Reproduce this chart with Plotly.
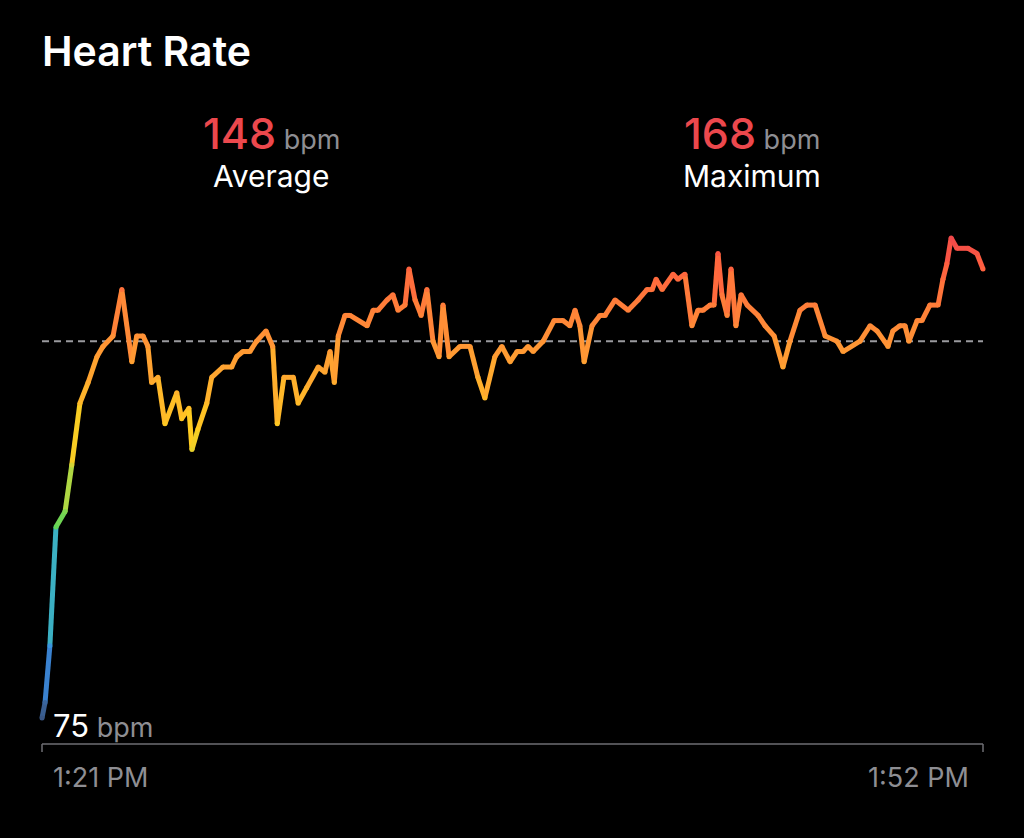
import numpy as np
import plotly.graph_objects as go

# minutes after 1:21 PM
minutes = [0.0, 0.10, 0.26, 0.46, 0.76, 0.98, 1.25, 1.52, 1.81, 2.01,
           2.34, 2.63, 2.96, 3.12, 3.33, 3.49, 3.61, 3.82, 4.05, 4.44,
           4.60, 4.84, 4.94, 5.14, 5.43, 5.59, 5.96, 6.25, 6.41, 6.62,
           6.85, 7.07, 7.38, 7.60, 7.75, 7.97, 8.28, 8.44, 8.72, 9.10,
           9.32, 9.49, 9.63, 9.76, 9.98, 10.15, 10.71, 10.91, 11.07, 11.37,
           11.56, 11.73, 11.96, 12.09, 12.29, 12.49, 12.68, 12.88, 13.08, 13.21,
           13.41, 13.77, 14.10, 14.36, 14.59, 14.92, 15.15, 15.42, 15.65, 15.85,
           16.01, 16.18, 16.51, 16.87, 17.16, 17.39, 17.56, 17.72, 17.86, 18.12,
           18.38, 18.55, 18.88, 19.31, 19.64, 19.93, 20.10, 20.23, 20.43, 20.79,
           20.95, 21.18, 21.41, 21.61, 21.78, 22.01, 22.14, 22.27, 22.40, 22.57,
           22.70, 22.86, 23.03, 23.23, 23.59, 23.82, 24.12, 24.41, 24.64, 24.97,
           25.20, 25.47, 25.80, 26.19, 26.39, 26.95, 27.28, 27.51, 27.87, 28.03,
           28.26, 28.43, 28.56, 28.83, 28.99, 29.25, 29.52, 29.68, 29.81, 29.95,
           30.14, 30.51, 30.80, 31.00]

bpm = [75, 78, 89, 112, 115, 124, 136, 140, 145, 147,
       149, 158, 144, 149, 149, 147, 140, 141, 132, 138,
       133, 135, 127, 131, 136, 141, 143, 143, 145, 146,
       146, 148, 150, 147, 132, 141, 141, 136, 139, 143,
       142, 146, 140, 149, 153, 153, 151, 154, 154, 156,
       157, 154, 155, 162, 156, 153, 158, 148, 145, 155,
       145, 147, 147, 141, 137, 145, 147, 144, 146, 146,
       147, 146, 148, 152, 152, 151, 154, 151, 144, 151,
       153, 153, 156, 154, 156, 158, 158, 160, 158, 161,
       160, 161, 151, 154, 154, 155, 155, 165, 157, 153,
       162, 151, 157, 155, 153, 151, 149, 143, 148, 154,
       155, 155, 149, 148, 146, 148, 151, 150, 147, 150,
       151, 151, 148, 152, 152, 155, 155, 160, 163, 168,
       166, 166, 165, 162]

avg_bpm = 148
max_bpm = 168
min_bpm = 75
start_label = "1:21 PM"
end_label = "1:52 PM"

# heart-rate colour ramp (bpm -> colour)
ramp_bpm = [75, 86, 100, 110, 122, 131, 140, 148, 156, 163, 168]
ramp_hex = ["#3a5785", "#3a8fe6", "#3aaec8", "#4cd45c", "#c9d83c", "#ffcc20",
            "#ffac2e", "#ff9435", "#ff7a3a", "#ff5e40", "#f0484a"]
ramp_rgb = np.array([[int(h[i:i + 2], 16) for i in (1, 3, 5)] for h in ramp_hex])


def hr_color(v):
    r, g, b = (np.interp(v, ramp_bpm, ramp_rgb[:, k]) for k in range(3))
    return f"rgb({r:.0f},{g:.0f},{b:.0f})"


W, H = 1024, 838
L, R, T, B = 32, 31, 200, 78
FONT = "Inter, 'Noto Sans', sans-serif"
GRAY = "#8e8e93"
RED = "#ec484d"


def px(x):
    return (x - L) / (W - L - R)


def py(y):
    return (H - B - y) / (H - T - B)


fig = go.Figure()

# coloured segments
for i in range(len(bpm) - 1):
    fig.add_trace(go.Scatter(
        x=minutes[i:i + 2], y=bpm[i:i + 2], mode="lines",
        line=dict(color=hr_color((bpm[i] + bpm[i + 1]) / 2), width=5),
        hoverinfo="skip", showlegend=False))

# round joints
fig.add_trace(go.Scatter(
    x=minutes, y=bpm, mode="markers",
    marker=dict(color=[hr_color(v) for v in bpm], size=5, line=dict(width=0)),
    hoverinfo="skip", showlegend=False))

x0, x1 = minutes[0], minutes[-1]
shapes = [
    dict(type="line", xref="x", yref="y", x0=x0, x1=x1, y0=avg_bpm, y1=avg_bpm,
         line=dict(color="#9a9a9e", width=2, dash="7px,5px"), layer="below"),
    dict(type="line", xref="x", yref="paper", x0=x0, x1=x1, y0=py(744), y1=py(744),
         line=dict(color="#6e6e73", width=1.5)),
    dict(type="line", xref="x", yref="paper", x0=x0, x1=x0, y0=py(744), y1=py(752),
         line=dict(color="#6e6e73", width=1.5)),
    dict(type="line", xref="x", yref="paper", x0=x1, x1=x1, y0=py(744), y1=py(752),
         line=dict(color="#6e6e73", width=1.5)),
]


def stat(value, size_num, size_unit):
    return (f"<span style='color:{RED};font-size:{size_num}px;font-weight:500'>{value}</span>"
            f"<span style='color:{GRAY};font-size:{size_unit}px'> bpm</span>")


annotations = [
    dict(text="Heart Rate", x=px(40), y=py(51), xanchor="left", yanchor="middle",
         font=dict(size=41, color="white", family=FONT, weight=600)),
    dict(text=stat(avg_bpm, 43, 27), x=px(271), y=py(133), xanchor="center", yanchor="middle",
         font=dict(family=FONT)),
    dict(text="Average", x=px(271), y=py(176), xanchor="center", yanchor="middle",
         font=dict(size=30, color="white", family=FONT)),
    dict(text=stat(max_bpm, 43, 27), x=px(752), y=py(133), xanchor="center", yanchor="middle",
         font=dict(family=FONT)),
    dict(text="Maximum", x=px(752), y=py(176), xanchor="center", yanchor="middle",
         font=dict(size=30, color="white", family=FONT)),
    dict(text=f"<span style='color:white;font-size:31px'>{min_bpm}</span>"
              f"<span style='color:{GRAY};font-size:27px'> bpm</span>",
         x=px(51), y=py(725), xanchor="left", yanchor="middle", font=dict(family=FONT)),
    dict(text=start_label, x=px(51), y=py(778), xanchor="left", yanchor="middle",
         font=dict(size=27, color=GRAY, family=FONT)),
    dict(text=end_label, x=px(971), y=py(778), xanchor="right", yanchor="middle",
         font=dict(size=27, color=GRAY, family=FONT)),
]
for a in annotations:
    a.update(xref="paper", yref="paper", showarrow=False)

# axis ranges chosen so 1:21 PM sits at x=42px and 1:52 PM at x=983px
x_scale = (983 - 42) / (x1 - x0)
y_scale = (718 - 238) / (max_bpm - min_bpm)
fig.update_layout(
    width=W, height=H,
    margin=dict(l=L, r=R, t=T, b=B, pad=0),
    paper_bgcolor="black", plot_bgcolor="black",
    xaxis=dict(range=[x0 - (42 - L) / x_scale, x1 + (W - R - 983) / x_scale],
               visible=False, fixedrange=True),
    yaxis=dict(range=[min_bpm - (H - B - 718) / y_scale, min_bpm + (718 - T) / y_scale],
               visible=False, fixedrange=True),
    shapes=shapes, annotations=annotations,
    showlegend=False,
)

fig.write_html("out.html", config={"displayModeBar": False},
               post_script="document.body.style.margin='0';document.body.style.background='black';")
